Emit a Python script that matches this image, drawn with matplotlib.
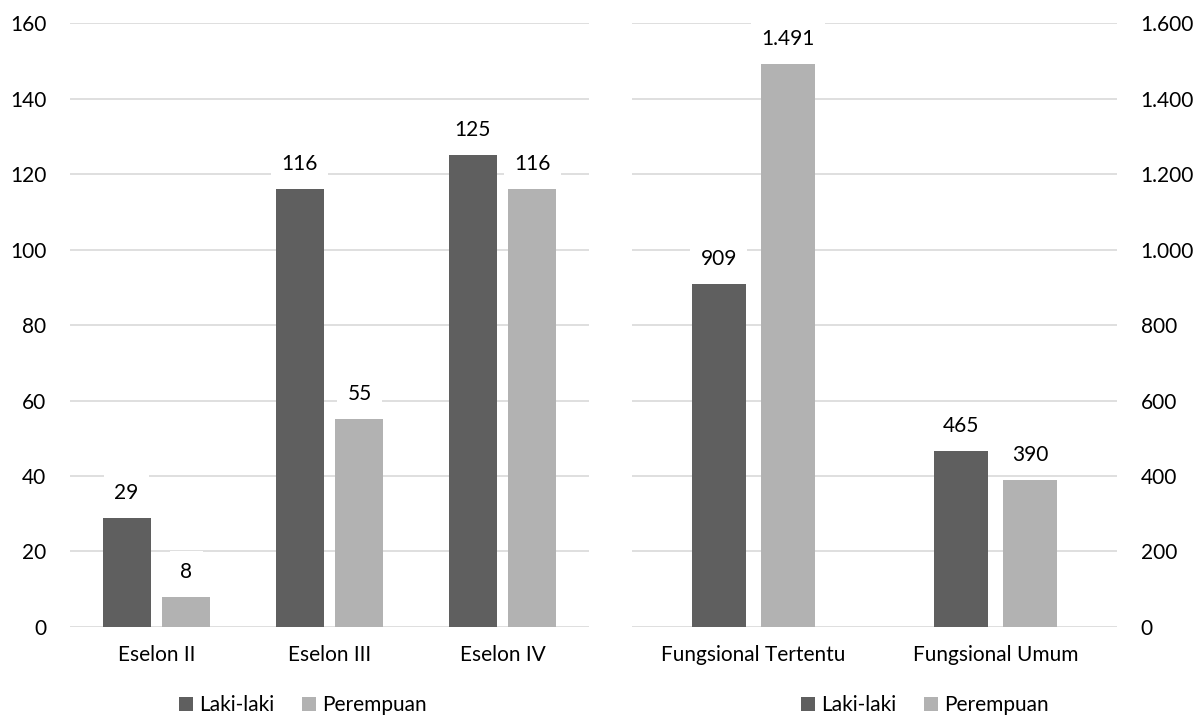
import matplotlib
matplotlib.use('Agg')
import matplotlib.pyplot as plt
import numpy as np
from matplotlib.ticker import FuncFormatter

plt.rcParams['font.family'] = ['Lato', 'DejaVu Sans']

# data
eselon_cats = ['Eselon II', 'Eselon III', 'Eselon IV']
eselon_laki = [29, 116, 125]
eselon_perempuan = [8, 55, 116]

fung_cats = ['Fungsional Tertentu', 'Fungsional Umum']
fung_laki = [909, 465]
fung_perempuan = [1491, 390]

series_names = ['Laki-laki', 'Perempuan']
dark = '#5f5f5f'
light = '#b2b2b2'
grid_col = '#d9d9d9'
fs = 15


def fmt_id(v):
    # indonesian thousands separator
    return '{:,.0f}'.format(v).replace(',', '.')


def draw(ax, cats, laki, perempuan, ymax, step, width, offset, right=False):
    x = np.arange(len(cats))
    b1 = ax.bar(x - offset, laki, width, color=dark, label=series_names[0], zorder=2)
    b2 = ax.bar(x + offset, perempuan, width, color=light, label=series_names[1], zorder=2)
    ax.set_xlim(-0.5, len(cats) - 0.5)
    ax.set_ylim(0, ymax)
    ax.set_yticks(np.arange(0, ymax + 1, step))
    ax.yaxis.set_major_formatter(FuncFormatter(lambda v, p: fmt_id(v)))
    ax.set_xticks(x)
    ax.set_xticklabels(cats)
    ax.grid(axis='y', color=grid_col, linewidth=1.2, zorder=0)
    ax.set_axisbelow(True)
    for s in ax.spines.values():
        s.set_visible(False)
    ax.tick_params(axis='y', length=0, pad=17, labelsize=fs)
    ax.tick_params(axis='x', length=0, pad=13, labelsize=fs)
    if right:
        ax.yaxis.tick_right()
        ax.tick_params(axis='y', length=0, pad=17, labelsize=fs)
    for bars in (b1, b2):
        for r in bars:
            h = r.get_height()
            ax.annotate(fmt_id(h), (r.get_x() + r.get_width() / 2, h),
                        xytext=(0, 18), textcoords='offset points',
                        ha='center', va='center', fontsize=fs, zorder=3,
                        bbox=dict(boxstyle='square,pad=0.5', fc='white', ec='none'))
    return b1, b2


fig = plt.figure(figsize=(12.03, 7.21), dpi=100)
ax1 = fig.add_axes([0.0582, 0.1304, 0.4314, 0.8376])
ax2 = fig.add_axes([0.5254, 0.1304, 0.4031, 0.8376])

draw(ax1, eselon_cats, eselon_laki, eselon_perempuan, 160, 20, 0.277, 0.173)
draw(ax2, fung_cats, fung_laki, fung_perempuan, 1600, 200, 0.222, 0.142, right=True)

leg_kw = dict(loc='center', ncol=2, frameon=False, fontsize=fs,
              handlelength=0.7, handleheight=0.7, handletextpad=0.3,
              columnspacing=1.3)
h, l = ax1.get_legend_handles_labels()
fig.legend(h, l, bbox_to_anchor=(303 / 1203, 0.022), **leg_kw)
fig.legend(h, l, bbox_to_anchor=(925 / 1203, 0.022), **leg_kw)

fig.savefig('out.png', dpi=100)
